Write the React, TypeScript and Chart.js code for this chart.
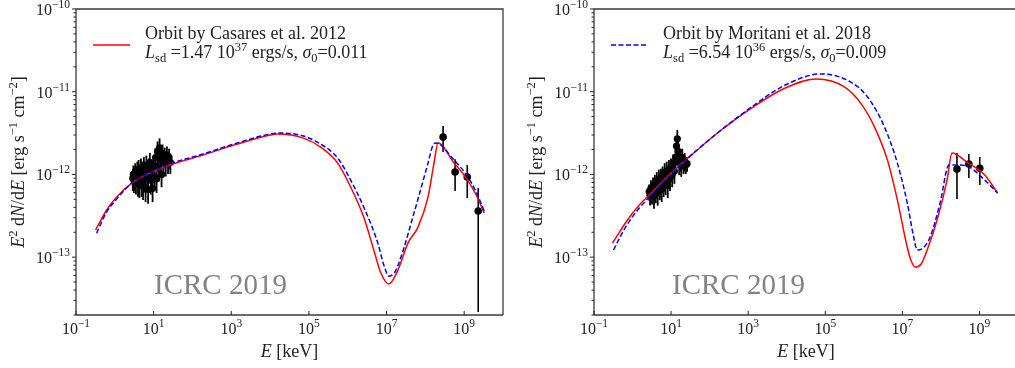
import React, { useEffect, useRef } from 'react';
import { Chart, registerables } from 'chart.js';

Chart.register(...registerables);

const SERIF = '"Liberation Serif", "DejaVu Serif", serif';

// ---------------- data ----------------
const xTickExps = [-1, 1, 3, 5, 7, 9];
const yTickExps = [-13, -12, -11, -10];

// Left panel: model curves (E in keV, E^2 dN/dE in erg s^-1 cm^-2)
const leftRedE = [0.32, 0.615, 1.12, 2.73, 7.98, 26.2, 187.5, 1422, 1.01e4, 1.54e4, 7.24e4, 2.0e5, 5.5e5, 1.19e6, 2.58e6, 4.69e6, 7.13e6, 1.15e7, 1.96e7, 3.56e7, 6.46e7, 1.17e8, 1.67e8, 2.12e8, 5.51e8, 1.13e9, 2.04e9, 3.29e9];
const leftRedF = [2.13e-13, 3.72e-13, 5.33e-13, 7.87e-13, 1.04e-12, 1.3e-12, 1.72e-12, 2.33e-12, 2.99e-12, 3.08e-12, 2.75e-12, 2.14e-12, 1.37e-12, 7.05e-13, 3.05e-13, 1.22e-13, 6.43e-14, 4.73e-14, 6.98e-14, 1.48e-13, 2.31e-13, 5.33e-13, 1.37e-12, 2.4e-12, 1.37e-12, 9.04e-13, 5.64e-13, 3.41e-13];
const leftBlueE = [0.339, 0.615, 1.12, 2.73, 7.98, 26.2, 187.5, 1422, 1.01e4, 1.84e4, 7.24e4, 2.0e5, 5.5e5, 1.19e6, 2.58e6, 5.96e6, 8.51e6, 1.15e7, 1.64e7, 2.35e7, 5.09e7, 1.17e8, 1.58e8, 1.89e8, 5.51e8, 1.2e9, 2.04e9, 3.29e9];
const leftBlueF = [1.95e-13, 3.51e-13, 5.05e-13, 7.87e-13, 1.04e-12, 1.34e-12, 1.77e-12, 2.4e-12, 3.08e-12, 3.17e-12, 2.91e-12, 2.33e-12, 1.58e-12, 8.55e-13, 4.04e-13, 1.48e-13, 8.02e-14, 5.9e-14, 6.61e-14, 1.0e-13, 3.41e-13, 1.37e-12, 2.27e-12, 2.4e-12, 1.49e-12, 9.57e-13, 6.12e-13, 3.61e-13];

// Right panel: model curves
const rightRedE = [0.303, 0.459, 0.738, 1.5, 2.72, 8.89, 29.1, 172, 1219, 9140, 5.74e4, 3.21e5, 8.28e5, 1.9e6, 4.1e6, 7.43e6, 1.34e7, 1.7e7, 2.16e7, 3.08e7, 4.4e7, 7.96e7, 1.44e8, 1.94e8, 4.71e8, 1.37e9, 2.96e9];
const rightRedF = [1.48e-13, 2.01e-13, 2.81e-13, 4.27e-13, 5.64e-13, 9.84e-13, 1.62e-12, 3.26e-12, 6.35e-12, 1.11e-11, 1.43e-11, 1.14e-11, 7.29e-12, 3.74e-12, 1.49e-12, 4.9e-13, 1.32e-13, 8.97e-14, 7.59e-14, 8.26e-14, 1.22e-13, 2.81e-13, 8.55e-13, 1.82e-12, 1.41e-12, 9.84e-13, 5.96e-13];
const rightBlueE = [0.321, 0.459, 0.738, 1.5, 2.72, 8.89, 29.1, 172, 1219, 9140, 7.73e4, 4.58e5, 1.25e6, 3.44e6, 7.43e6, 1.34e7, 1.92e7, 2.43e7, 3.47e7, 5.25e7, 9.51e7, 1.62e8, 2.61e8, 4.71e8, 1.37e9, 2.96e9];
const rightBlueF = [1.22e-13, 1.7e-13, 2.51e-13, 3.93e-13, 5.33e-13, 9.57e-13, 1.62e-12, 3.26e-12, 6.53e-12, 1.205e-11, 1.64e-11, 1.31e-11, 8.63e-12, 3.74e-12, 1.37e-12, 4.51e-13, 1.85e-13, 1.22e-13, 1.29e-13, 1.75e-13, 4.51e-13, 1.3e-12, 1.3e-12, 1.265e-12, 8.55e-13, 5.96e-13];

// X-ray data (left)
const leftXrayE = [2.9, 3.0, 3.1, 3.2, 3.35, 3.5, 3.65, 3.8, 3.95, 4.1, 4.3, 4.5, 4.7, 4.9, 5.1, 5.35, 5.6, 5.9, 6.2, 6.5, 6.8, 7.2, 7.6, 8.0, 8.4, 8.9, 9.4, 10, 10.6, 11.2, 11.9, 12.6, 13.4, 14.2, 15, 16, 17, 18, 19.2, 20.5, 22, 23.5, 25, 27];
const leftXrayF = [9.0e-13, 1.0e-12, 8.5e-13, 9.5e-13, 1.05e-12, 8.2e-13, 9.8e-13, 1.1e-12, 8.0e-13, 1.15e-12, 7.6e-13, 1.0e-12, 1.2e-12, 8.0e-13, 1.1e-12, 7.2e-13, 1.25e-12, 9.0e-13, 6.8e-13, 1.3e-12, 1.0e-12, 6.6e-13, 1.2e-12, 1.4e-12, 8.5e-13, 1.05e-12, 6.8e-13, 1.3e-12, 9.5e-13, 1.6e-12, 8.8e-13, 1.9e-12, 1.2e-12, 2.1e-12, 1.5e-12, 1.0e-12, 1.8e-12, 1.4e-12, 1.65e-12, 1.35e-12, 1.7e-12, 1.45e-12, 1.6e-12, 1.4e-12];
const leftXrayRel = [0.3, 0.28, 0.3, 0.32, 0.3, 0.3, 0.28, 0.3, 0.33, 0.3, 0.32, 0.3, 0.3, 0.33, 0.3, 0.32, 0.3, 0.33, 0.32, 0.3, 0.32, 0.33, 0.3, 0.3, 0.33, 0.3, 0.32, 0.3, 0.32, 0.3, 0.32, 0.32, 0.3, 0.3, 0.3, 0.3, 0.28, 0.3, 0.28, 0.3, 0.28, 0.3, 0.28, 0.28];

// X-ray data (right)
const rightXrayE = [2.7, 2.85, 3.0, 3.2, 3.4, 3.6, 3.8, 4.0, 4.25, 4.5, 4.8, 5.1, 5.4, 5.7, 6.0, 6.4, 6.8, 7.2, 7.7, 8.2, 8.8, 9.4, 10, 10.7, 11.4, 12.2, 13, 13.8, 14.5, 15.3, 16.2, 17.2, 18.3, 19.5, 21, 22.5, 24, 26];
const rightXrayF = [6.2e-13, 5.6e-13, 6.8e-13, 6.0e-13, 7.2e-13, 5.5e-13, 7.6e-13, 6.4e-13, 8.2e-13, 6.0e-13, 8.8e-13, 7.0e-13, 9.0e-13, 6.6e-13, 9.6e-13, 7.6e-13, 1.05e-12, 8.0e-13, 1.1e-12, 7.4e-13, 1.15e-12, 9.0e-13, 1.2e-12, 1.0e-12, 1.35e-12, 1.1e-12, 1.6e-12, 2.2e-12, 2.7e-12, 1.9e-12, 1.4e-12, 1.55e-12, 1.3e-12, 1.6e-12, 1.35e-12, 1.45e-12, 1.3e-12, 1.35e-12];
const rightXrayRel = [0.22, 0.25, 0.25, 0.28, 0.28, 0.3, 0.3, 0.3, 0.3, 0.3, 0.3, 0.3, 0.3, 0.3, 0.3, 0.3, 0.3, 0.3, 0.3, 0.3, 0.3, 0.3, 0.3, 0.3, 0.3, 0.3, 0.3, 0.3, 0.28, 0.3, 0.3, 0.3, 0.28, 0.28, 0.25, 0.25, 0.22, 0.2];

// Gamma-ray data (left)
const leftGammaE = [2.86e8, 5.83e8, 1.2e9, 2.3e9];
const leftGammaF = [2.83e-12, 1.07e-12, 9.31e-13, 3.61e-13];
const leftGammaLo = [1.87e-12, 6.3e-13, 5.19e-13, 2.17e-14];
const leftGammaHi = [3.85e-12, 1.53e-12, 1.3e-12, 6.85e-13];

// Gamma-ray data (right)
const rightGammaE = [2.61e8, 5.31e8, 1.02e9];
const rightGammaF = [1.16e-12, 1.34e-12, 1.19e-12];
const rightGammaLo = [5.05e-13, 9.04e-13, 7.45e-13];
const rightGammaHi = [1.82e-12, 1.77e-12, 1.62e-12];

// ---------------- helpers ----------------
type Seg = { t: string; it?: boolean; sz: number; dy?: number };

function segFont(s: Seg) {
  return `${s.it ? 'italic ' : ''}${s.sz}px ${SERIF}`;
}
function richWidth(ctx: CanvasRenderingContext2D, segs: Seg[]) {
  let w = 0;
  for (const s of segs) {
    ctx.font = segFont(s);
    w += ctx.measureText(s.t).width;
  }
  return w;
}
function drawRich(ctx: CanvasRenderingContext2D, segs: Seg[], x: number, y: number, align: 'left' | 'center' | 'right') {
  const w = richWidth(ctx, segs);
  let cx = align === 'left' ? x : align === 'center' ? x - w / 2 : x - w;
  ctx.textAlign = 'left';
  ctx.textBaseline = 'alphabetic';
  for (const s of segs) {
    ctx.font = segFont(s);
    ctx.fillText(s.t, cx, y + (s.dy || 0));
    cx += ctx.measureText(s.t).width;
  }
}
function pow10Label(e: number): Seg[] {
  const exp = e < 0 ? '\u2212' + String(-e) : String(e);
  return [
    { t: '10', sz: 16 },
    { t: exp, sz: 11.5, dy: -7 },
  ];
}

type ErrBar = { x: number; lo: number; hi: number; w: number };

interface PanelCfg {
  left: number;
  width: number;
  yAxisW: number;
  padRight: number;
  redE: number[];
  redF: number[];
  blueE: number[];
  blueF: number[];
  xrayE: number[];
  xrayF: number[];
  xrayRel: number[];
  gammaE: number[];
  gammaF: number[];
  gammaLo: number[];
  gammaHi: number[];
  legendTitle: string;
  legendLsd: string;
  legendExp: string;
  legendSigma: string;
  legendColor: string;
  legendDash: number[];
  drawRight: boolean;
}

const X_MIN = 0.1;
const X_MAX = 1e10;
const Y_MIN = 2e-14;
const Y_MAX = 1e-10;
const H = 368;
const PLOT_BOTTOM = 315;
const PLOT_TOP = 9;

function Panel({ cfg }: { cfg: PanelCfg }) {
  const ref = useRef<HTMLCanvasElement>(null);

  useEffect(() => {
    const canvas = ref.current;
    if (!canvas) return;

    const errBars: ErrBar[] = [];
    cfg.xrayE.forEach((e, i) => {
      errBars.push({ x: e, lo: cfg.xrayF[i] * (1 - cfg.xrayRel[i]), hi: cfg.xrayF[i] * (1 + cfg.xrayRel[i]), w: 1.8 });
    });
    cfg.gammaE.forEach((e, i) => {
      errBars.push({ x: e, lo: cfg.gammaLo[i], hi: cfg.gammaHi[i], w: 1.6 });
    });

    const decor = {
      id: 'decor',
      beforeDatasetsDraw(chart: any) {
        const ctx: CanvasRenderingContext2D = chart.ctx;
        const xs = chart.scales.x;
        const ys = chart.scales.y;
        const a = chart.chartArea;
        ctx.save();
        ctx.beginPath();
        ctx.rect(a.left, a.top, a.right - a.left, a.bottom - a.top);
        ctx.clip();
        ctx.strokeStyle = '#000';
        for (const b of errBars) {
          const px = xs.getPixelForValue(b.x);
          ctx.lineWidth = b.w;
          ctx.beginPath();
          ctx.moveTo(px, ys.getPixelForValue(b.lo));
          ctx.lineTo(px, ys.getPixelForValue(b.hi));
          ctx.stroke();
        }
        ctx.restore();
      },
      afterDraw(chart: any) {
        const ctx: CanvasRenderingContext2D = chart.ctx;
        const xs = chart.scales.x;
        const ys = chart.scales.y;
        const a = chart.chartArea;
        ctx.save();

        // frame
        ctx.strokeStyle = '#3a3a3a';
        ctx.lineWidth = 1.3;
        ctx.beginPath();
        ctx.moveTo(a.left, a.bottom);
        ctx.lineTo(a.left, a.top);
        ctx.lineTo(a.right, a.top);
        if (cfg.drawRight) ctx.lineTo(a.right, a.bottom);
        ctx.moveTo(a.left, a.bottom);
        ctx.lineTo(a.right, a.bottom);
        ctx.stroke();

        // ticks
        ctx.strokeStyle = '#222';
        ctx.lineWidth = 1;
        for (const e of xTickExps) {
          const px = xs.getPixelForValue(Math.pow(10, e));
          ctx.beginPath();
          ctx.moveTo(px, a.bottom);
          ctx.lineTo(px, a.bottom - 4);
          ctx.stroke();
        }
        for (const e of yTickExps) {
          const py = ys.getPixelForValue(Math.pow(10, e));
          ctx.beginPath();
          ctx.moveTo(a.left, py);
          ctx.lineTo(a.left - 4, py);
          ctx.stroke();
        }
        for (let n = -14; n <= -11; n++) {
          for (let k = 2; k <= 9; k++) {
            const v = k * Math.pow(10, n);
            if (v < Y_MIN || v > Y_MAX) continue;
            const py = ys.getPixelForValue(v);
            ctx.beginPath();
            ctx.moveTo(a.left, py);
            ctx.lineTo(a.left - 2.5, py);
            ctx.stroke();
          }
        }

        // tick labels
        ctx.fillStyle = '#222';
        for (const e of xTickExps) {
          const px = xs.getPixelForValue(Math.pow(10, e));
          drawRich(ctx, pow10Label(e), px, 334, 'center');
        }
        for (const e of yTickExps) {
          const py = ys.getPixelForValue(Math.pow(10, e));
          drawRich(ctx, pow10Label(e), a.left - 6, py + 6, 'right');
        }

        // axis titles
        const cx = (a.left + a.right) / 2;
        drawRich(ctx, [{ t: 'E', it: true, sz: 18 }, { t: ' [keV]', sz: 18 }], cx, 357, 'center');

        ctx.save();
        ctx.translate(a.left - 52, (a.top + a.bottom) / 2);
        ctx.rotate(-Math.PI / 2);
        drawRich(
          ctx,
          [
            { t: 'E', it: true, sz: 18 },
            { t: '2', sz: 12.5, dy: -7 },
            { t: ' d', sz: 18 },
            { t: 'N', it: true, sz: 18 },
            { t: '/d', sz: 18 },
            { t: 'E', it: true, sz: 18 },
            { t: ' [erg s', sz: 18 },
            { t: '\u22121', sz: 12.5, dy: -7 },
            { t: ' cm', sz: 18 },
            { t: '\u22122', sz: 12.5, dy: -7 },
            { t: ']', sz: 18 },
          ],
          0,
          0,
          'center'
        );
        ctx.restore();

        // legend
        ctx.strokeStyle = cfg.legendColor;
        ctx.lineWidth = 1.5;
        ctx.setLineDash(cfg.legendDash);
        ctx.beginPath();
        ctx.moveTo(a.left + 17, 45);
        ctx.lineTo(a.left + 54, 45);
        ctx.stroke();
        ctx.setLineDash([]);
        ctx.fillStyle = '#222';
        const tx = a.left + 69;
        drawRich(ctx, [{ t: cfg.legendTitle, sz: 18 }], tx, 39, 'left');
        drawRich(
          ctx,
          [
            { t: 'L', it: true, sz: 18 },
            { t: 'sd', sz: 12.5, dy: 4 },
            { t: ' =' + cfg.legendLsd + ' 10', sz: 18 },
            { t: cfg.legendExp, sz: 12.5, dy: -7 },
            { t: ' ergs/s, ', sz: 18 },
            { t: '\u03C3', it: true, sz: 18 },
            { t: '0', sz: 12.5, dy: 4 },
            { t: '=' + cfg.legendSigma, sz: 18 },
          ],
          tx,
          58,
          'left'
        );

        // watermark
        ctx.fillStyle = '#838383';
        drawRich(ctx, [{ t: 'ICRC 2019', sz: 29 }], a.left + 78, 294, 'left');

        ctx.restore();
      },
    };

    const pts = (E: number[], F: number[]) => E.map((e, i) => ({ x: e, y: F[i] }));

    const chart = new Chart(canvas, {
      type: 'scatter',
      data: {
        datasets: [
          {
            label: 'blue',
            data: pts(cfg.blueE, cfg.blueF),
            showLine: true,
            borderColor: '#0000ff',
            borderWidth: 1.5,
            borderDash: [5, 2.5],
            pointRadius: 0,
            cubicInterpolationMode: 'monotone',
            fill: false,
            order: 0,
          },
          {
            label: 'red',
            data: pts(cfg.redE, cfg.redF),
            showLine: true,
            borderColor: '#ff0000',
            borderWidth: 1.5,
            pointRadius: 0,
            cubicInterpolationMode: 'monotone',
            fill: false,
            order: 1,
          },
          {
            label: 'xray',
            data: pts(cfg.xrayE, cfg.xrayF),
            showLine: false,
            pointRadius: 3.6,
            pointBackgroundColor: '#000',
            pointBorderWidth: 0,
            order: 2,
          },
          {
            label: 'gamma',
            data: pts(cfg.gammaE, cfg.gammaF),
            showLine: false,
            pointRadius: 3.8,
            pointBackgroundColor: '#000',
            pointBorderWidth: 0,
            order: 3,
          },
        ],
      } as any,
      options: {
        responsive: false,
        animation: false,
        devicePixelRatio: 1,
        layout: { padding: { top: PLOT_TOP, right: cfg.padRight, left: 0, bottom: 0 } },
        plugins: { legend: { display: false }, tooltip: { enabled: false } },
        scales: {
          x: {
            type: 'logarithmic',
            min: X_MIN,
            max: X_MAX,
            bounds: 'data',
            grid: { display: false },
            border: { display: false },
            ticks: { display: false },
            afterFit: (s: any) => {
              s.height = H - PLOT_BOTTOM;
            },
          },
          y: {
            type: 'logarithmic',
            min: Y_MIN,
            max: Y_MAX,
            bounds: 'data',
            grid: { display: false },
            border: { display: false },
            ticks: { display: false },
            afterFit: (s: any) => {
              s.width = cfg.yAxisW;
            },
          },
        },
      } as any,
      plugins: [decor],
    });

    return () => chart.destroy();
  }, []);

  return (
    <canvas
      ref={ref}
      width={cfg.width}
      height={H}
      style={{ position: 'absolute', left: cfg.left, top: 0, width: cfg.width, height: H }}
    />
  );
}

const leftCfg: PanelCfg = {
  left: 0,
  width: 510,
  yAxisW: 76,
  padRight: 7,
  redE: leftRedE,
  redF: leftRedF,
  blueE: leftBlueE,
  blueF: leftBlueF,
  xrayE: leftXrayE,
  xrayF: leftXrayF,
  xrayRel: leftXrayRel,
  gammaE: leftGammaE,
  gammaF: leftGammaF,
  gammaLo: leftGammaLo,
  gammaHi: leftGammaHi,
  legendTitle: 'Orbit by Casares et al. 2012',
  legendLsd: '1.47',
  legendExp: '37',
  legendSigma: '0.011',
  legendColor: '#ff0000',
  legendDash: [],
  drawRight: true,
};

const rightCfg: PanelCfg = {
  left: 510,
  width: 512,
  yAxisW: 84,
  padRight: 0,
  redE: rightRedE,
  redF: rightRedF,
  blueE: rightBlueE,
  blueF: rightBlueF,
  xrayE: rightXrayE,
  xrayF: rightXrayF,
  xrayRel: rightXrayRel,
  gammaE: rightGammaE,
  gammaF: rightGammaF,
  gammaLo: rightGammaLo,
  gammaHi: rightGammaHi,
  legendTitle: 'Orbit by Moritani et al. 2018',
  legendLsd: '6.54',
  legendExp: '36',
  legendSigma: '0.009',
  legendColor: '#0000ff',
  legendDash: [5, 2.5],
  drawRight: true,
};

export default function App() {
  return (
    <div
      style={{
        position: 'absolute',
        left: 0,
        top: 0,
        width: 1015,
        height: 368,
        overflow: 'hidden',
        background: '#fff',
      }}
    >
      <Panel cfg={leftCfg} />
      <Panel cfg={rightCfg} />
    </div>
  );
}
